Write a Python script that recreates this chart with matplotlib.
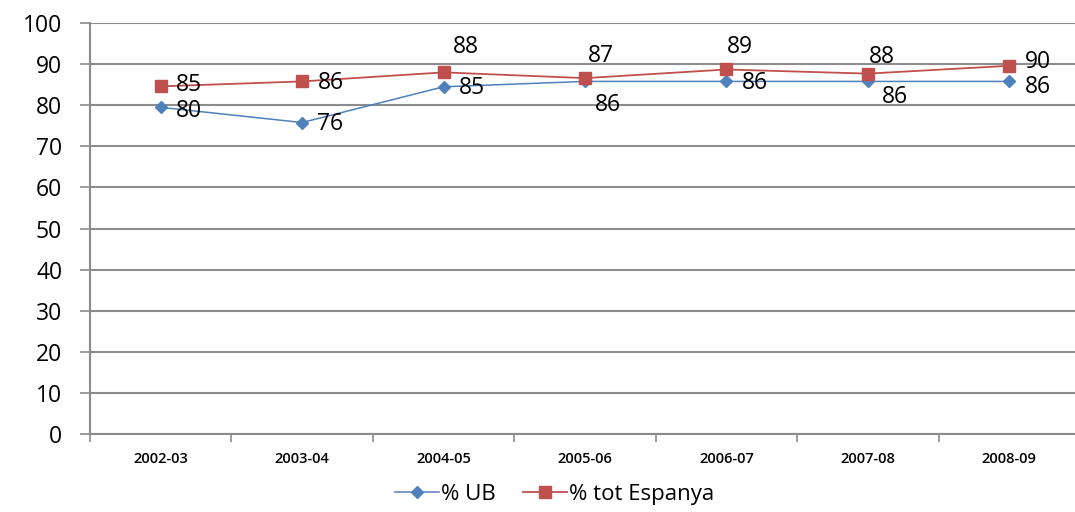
import matplotlib.pyplot as plt
import numpy as np

plt.rcParams['font.family'] = ['Open Sans', 'DejaVu Sans']

years = ["2002-03", "2003-04", "2004-05", "2005-06", "2006-07", "2007-08", "2008-09"]
ub = [79.5, 75.8, 84.5, 85.8, 85.8, 85.8, 85.8]
espanya = [84.6, 85.8, 88.0, 86.6, 88.7, 87.7, 89.6]
ub_labels = ["80", "76", "85", "86", "86", "86", "86"]
esp_labels = ["85", "86", "88", "87", "89", "88", "90"]

# label offsets in points (dx, dy) relative to the marker, left-aligned text
ub_off = [(11, -3), (11, -1), (11, -1), (7, -17), (11, -1), (10, -11), (11, -4)]
esp_off = [(11, 1), (11, -1), (7, 18), (2, 16), (0, 16), (1, 12), (11, 3)]

blue = "#4F81BD"
red = "#C0504D"
grid = "#8C8C8C"

fig = plt.figure(figsize=(10.75, 5.12), dpi=100)
ax = fig.add_axes([0.0837, 0.152, 0.9209, 0.803])

x = np.arange(len(years))
ax.plot(x, ub, color=blue, marker="D", markersize=6, linewidth=1.1, label="% UB")
ax.plot(x, espanya, color=red, marker="s", markersize=8, linewidth=1.3, label="% tot Espanya")

for i in range(len(years)):
    ax.annotate(ub_labels[i], (x[i], ub[i]), xytext=ub_off[i], textcoords="offset points",
                ha="left", va="center", fontsize=16.5, color="black")
    ax.annotate(esp_labels[i], (x[i], espanya[i]), xytext=esp_off[i], textcoords="offset points",
                ha="left", va="center", fontsize=16.5, color="black")

ax.set_xlim(-0.5, len(years) - 0.5)
ax.set_ylim(0, 100)
ax.set_yticks(range(0, 101, 10))
ax.yaxis.grid(True, color=grid, linewidth=1.5)
ax.set_axisbelow(True)
ax.tick_params(axis="y", length=7, width=1.2, color=grid, labelsize=16.5, pad=13)

ax.set_xticks(np.arange(-0.5, len(years), 1.0))
ax.set_xticklabels([])
ax.set_xticks(x, minor=True)
ax.set_xticklabels(years, minor=True, fontsize=10.5, fontweight="semibold")
ax.tick_params(axis="x", which="major", length=6, width=1.2, color=grid, direction="out")
ax.tick_params(axis="x", which="minor", length=0, pad=13)

for s in ["top", "right"]:
    ax.spines[s].set_visible(False)
for s in ["left", "bottom"]:
    ax.spines[s].set_color(grid)
    ax.spines[s].set_linewidth(1.5)

fig.legend(loc="lower center", bbox_to_anchor=(0.516, -0.025), ncol=2, frameon=False,
           fontsize=16, handlelength=2.0, columnspacing=1.2, handletextpad=0.1)

fig.savefig("out.png", dpi=100)
